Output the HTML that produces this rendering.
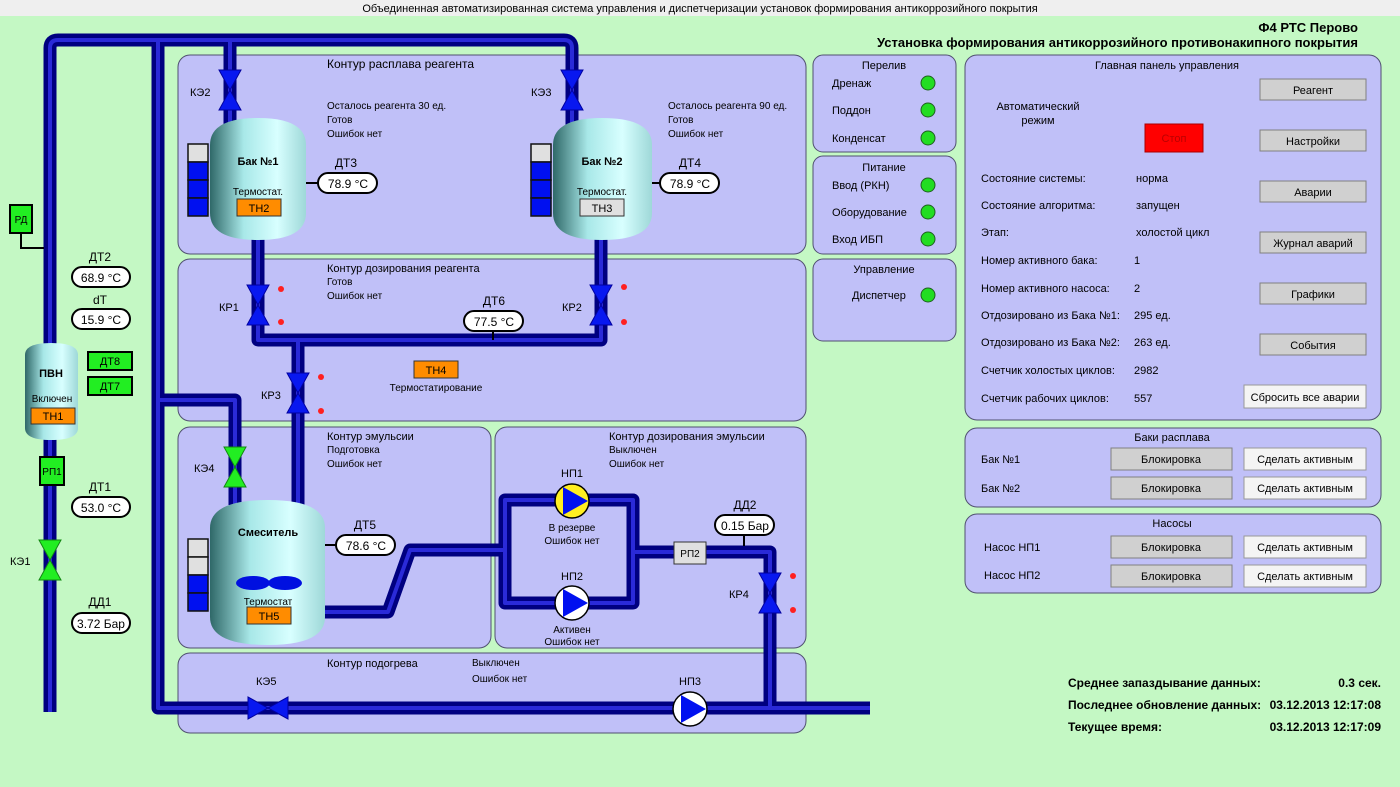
<!DOCTYPE html>
<html><head><meta charset="utf-8"><style>
body{margin:0;background:#c4f8c4;}
svg{display:block;font-family:"Liberation Sans","Noto Sans CJK SC",sans-serif;}
.t{font-size:11px;fill:#000}
.s{font-size:10px;fill:#000}
.h{font-size:12px;fill:#000}
.p{fill:#c0c0f8;stroke:#505070;stroke-width:1}
.pipe{fill:none;stroke:#000080;stroke-width:13;stroke-linejoin:round;stroke-linecap:butt}
.pipe2{fill:none;stroke:#2a2ad8;stroke-width:4;stroke-linejoin:round}
.btn{fill:#d0d0d0;stroke:#808080}
.g{fill:#22dd22;stroke:#206020}
</style></head><body>
<svg width="1400" height="787" viewBox="0 0 1400 787">
<defs>
<linearGradient id="tk" x1="0" x2="1" y1="0" y2="0">
<stop offset="0" stop-color="#2f6868"/><stop offset="0.35" stop-color="#a8e8e8"/><stop offset="0.7" stop-color="#d8ffff"/><stop offset="1" stop-color="#9ed8d8"/></linearGradient>
</defs>
<rect width="1400" height="787" fill="#c4f8c4"/>
<rect width="1400" height="16" fill="#efefef"/>
<text x="700" y="12" text-anchor="middle" class="t">Объединенная автоматизированная система управления и диспетчеризации установок формирования антикоррозийного покрытия</text>
<text x="1358" y="32" text-anchor="end" style="font-size:13px;font-weight:bold">Ф4 РТС Перово</text>
<text x="1358" y="47" text-anchor="end" style="font-size:13px;font-weight:bold">Установка формирования антикоррозийного противонакипного покрытия</text>

<!-- panels -->
<rect class="p" x="178" y="55" width="628" height="199" rx="12"/>
<rect class="p" x="178" y="259" width="628" height="162" rx="12"/>
<rect class="p" x="178" y="427" width="313" height="221" rx="12"/>
<rect class="p" x="495" y="427" width="311" height="221" rx="12"/>
<rect class="p" x="178" y="653" width="628" height="80" rx="12"/>
<rect class="p" x="813" y="55" width="143" height="97" rx="10"/>
<rect class="p" x="813" y="156" width="143" height="98" rx="10"/>
<rect class="p" x="813" y="259" width="143" height="82" rx="10"/>
<rect class="p" x="965" y="55" width="416" height="365" rx="12"/>
<rect class="p" x="965" y="428" width="416" height="79" rx="12"/>
<rect class="p" x="965" y="514" width="416" height="79" rx="12"/>

<text x="327" y="68" class="h">Контур расплава реагента</text>
<text x="327" y="272" class="h" style="font-size:11px">Контур дозирования реагента</text>
<text x="327" y="285" class="s">Готов</text><text x="327" y="299" class="s">Ошибок нет</text>
<text x="327" y="440" class="h" style="font-size:11px">Контур эмульсии</text>
<text x="327" y="453" class="s">Подготовка</text><text x="327" y="467" class="s">Ошибок нет</text>
<text x="609" y="440" class="h" style="font-size:11px">Контур дозирования эмульсии</text>
<text x="609" y="453" class="s">Выключен</text><text x="609" y="467" class="s">Ошибок нет</text>
<text x="327" y="667" class="h" style="font-size:11px">Контур подогрева</text>
<text x="472" y="666" class="s">Выключен</text><text x="472" y="682" class="s">Ошибок нет</text>
<text x="327" y="109" class="s">Осталось реагента  30 ед.</text><text x="327" y="123" class="s">Готов</text><text x="327" y="137" class="s">Ошибок нет</text>
<text x="668" y="109" class="s">Осталось реагента  90 ед.</text><text x="668" y="123" class="s">Готов</text><text x="668" y="137" class="s">Ошибок нет</text>

<!-- pipes -->
<g class="pipe">
<path d="M50,712 V48 Q50,40 58,40 H564 Q572,40 572,48 V125"/>
<path d="M158,40 V708 H870"/>
<path d="M230,40 V125"/>
<path d="M258,238 V340 H601 V238"/>
<path d="M298,340 V505"/>
<path d="M158,400 H235 V505"/>
<path d="M320,612 H388 L410,550 H505"/>
<path d="M505,500 H633 V603 H505 Z"/>
<path d="M633,552 H770 V708"/>
</g>
<g class="pipe2">
<path d="M50,712 V48 Q50,40 58,40 H564 Q572,40 572,48 V125"/>
<path d="M158,40 V708 H870"/>
<path d="M230,40 V125"/>
<path d="M258,238 V340 H601 V238"/>
<path d="M298,340 V505"/>
<path d="M158,400 H235 V505"/>
<path d="M320,612 H388 L410,550 H505"/>
<path d="M505,500 H633 V603 H505 Z"/>
<path d="M633,552 H770 V708"/>
</g>

<!-- tanks -->
<path d="M210,145 Q210,118 258,118 Q306,118 306,145 V213 Q306,240 258,240 Q210,240 210,213 Z" fill="url(#tk)"/>
<path d="M553,145 Q553,118 602,118 Q652,118 652,145 V213 Q652,240 602,240 Q553,240 553,213 Z" fill="url(#tk)"/>
<path d="M210,528 Q210,500 268,500 Q325,500 325,528 V617 Q325,645 268,645 Q210,645 210,617 Z" fill="url(#tk)"/>
<path d="M25,355 Q25,343 51,343 Q78,343 78,355 V428 Q78,440 51,440 Q25,440 25,428 Z" fill="url(#tk)"/>
<text x="258" y="165" text-anchor="middle" class="t" style="font-weight:bold">Бак №1</text>
<text x="258" y="195" text-anchor="middle" class="s">Термостат.</text>
<rect x="237" y="199" width="44" height="17" fill="#ff8c00" stroke="#333"/><text x="259" y="212" text-anchor="middle" class="t">ТН2</text>
<text x="602" y="165" text-anchor="middle" class="t" style="font-weight:bold">Бак №2</text>
<text x="602" y="195" text-anchor="middle" class="s">Термостат.</text>
<rect x="580" y="199" width="44" height="17" fill="#e0e0e0" stroke="#333"/><text x="602" y="212" text-anchor="middle" class="t">ТН3</text>
<text x="268" y="536" text-anchor="middle" class="t" style="font-weight:bold">Смеситель</text>
<ellipse cx="253" cy="583" rx="17" ry="7" fill="#0010e0"/><ellipse cx="285" cy="583" rx="17" ry="7" fill="#0010e0"/>
<text x="268" y="605" text-anchor="middle" class="s">Термостат</text>
<rect x="247" y="607" width="44" height="17" fill="#ff8c00" stroke="#333"/><text x="269" y="620" text-anchor="middle" class="t">ТН5</text>
<text x="51" y="377" text-anchor="middle" class="t" style="font-weight:bold">ПВН</text>
<text x="52" y="402" text-anchor="middle" class="s">Включен</text>
<rect x="31" y="408" width="44" height="16" fill="#ff8c00" stroke="#333"/><text x="53" y="420" text-anchor="middle" class="t">ТН1</text>

<!-- level bars -->
<g stroke="#111" stroke-width="1.5">
<rect x="188" y="144" width="20" height="18" fill="#e0e0e0"/><rect x="188" y="162" width="20" height="18" fill="#0010f0"/><rect x="188" y="180" width="20" height="18" fill="#0010f0"/><rect x="188" y="198" width="20" height="18" fill="#0010f0"/>
<rect x="531" y="144" width="20" height="18" fill="#e0e0e0"/><rect x="531" y="162" width="20" height="18" fill="#0010f0"/><rect x="531" y="180" width="20" height="18" fill="#0010f0"/><rect x="531" y="198" width="20" height="18" fill="#0010f0"/>
<rect x="188" y="539" width="20" height="18" fill="#e0e0e0"/><rect x="188" y="557" width="20" height="18" fill="#e0e0e0"/><rect x="188" y="575" width="20" height="18" fill="#0010f0"/><rect x="188" y="593" width="20" height="18" fill="#0010f0"/>
</g>

<!-- valves -->
<g fill="#0818f0" stroke="#0000a0">
<path d="M219,70 H241 L230,90 Z M219,110 H241 L230,90 Z"/>
<path d="M561,70 H583 L572,90 Z M561,110 H583 L572,90 Z"/>
<path d="M247,285 H269 L258,305 Z M247,325 H269 L258,305 Z"/>
<path d="M590,285 H612 L601,305 Z M590,325 H612 L601,305 Z"/>
<path d="M287,373 H309 L298,393 Z M287,413 H309 L298,393 Z"/>
<path d="M759,573 H781 L770,593 Z M759,613 H781 L770,593 Z"/>
<path d="M248,697 V719 L268,708 Z M288,697 V719 L268,708 Z"/>
</g>
<g fill="#22ee22" stroke="#118811">
<path d="M224,447 H246 L235,467 Z M224,487 H246 L235,467 Z"/>
<path d="M39,540 H61 L50,560 Z M39,580 H61 L50,560 Z"/>
</g>
<text x="190" y="96" class="t">КЭ2</text><text x="531" y="96" class="t">КЭ3</text>
<text x="219" y="311" class="t">КР1</text><text x="562" y="311" class="t">КР2</text>
<text x="261" y="399" class="t">КР3</text><text x="194" y="472" class="t">КЭ4</text>
<text x="10" y="565" class="t">КЭ1</text><text x="729" y="598" class="t">КР4</text>
<text x="256" y="685" class="t">КЭ5</text>
<g fill="#ff2020">
<circle cx="281" cy="289" r="3"/><circle cx="281" cy="322" r="3"/>
<circle cx="624" cy="287" r="3"/><circle cx="624" cy="322" r="3"/>
<circle cx="321" cy="377" r="3"/><circle cx="321" cy="411" r="3"/>
<circle cx="793" cy="576" r="3"/><circle cx="793" cy="610" r="3"/>
</g>

<!-- pumps -->
<g stroke="#000" stroke-width="1.5">
<circle cx="572" cy="501" r="17" fill="#ffee22"/><path d="M563,487 L588,501 L563,515 Z" fill="#0010f0" stroke="none"/>
<circle cx="572" cy="603" r="17" fill="#fff"/><path d="M563,589 L588,603 L563,617 Z" fill="#0010f0" stroke="none"/>
<circle cx="690" cy="709" r="17" fill="#fff"/><path d="M681,695 L706,709 L681,723 Z" fill="#0010f0" stroke="none"/>
</g>
<text x="572" y="477" text-anchor="middle" class="t">НП1</text>
<text x="572" y="531" text-anchor="middle" class="s">В резерве</text><text x="572" y="544" text-anchor="middle" class="s">Ошибок нет</text>
<text x="572" y="580" text-anchor="middle" class="t">НП2</text>
<text x="572" y="633" text-anchor="middle" class="s">Активен</text><text x="572" y="645" text-anchor="middle" class="s">Ошибок нет</text>
<text x="690" y="685" text-anchor="middle" class="t">НП3</text>

<!-- sensors -->
<g fill="#fff" stroke="#000" stroke-width="2">
<path d="M306,183 H318" fill="none"/><rect x="318" y="173" width="59" height="20" rx="10"/>
<path d="M652,183 H660" fill="none"/><rect x="660" y="173" width="59" height="20" rx="10"/>
<path d="M493,331 V340" fill="none"/><rect x="464" y="311" width="59" height="20" rx="10"/>
<path d="M325,545 H336" fill="none"/><rect x="336" y="535" width="59" height="20" rx="10"/>
<path d="M744,535 V546" fill="none"/><rect x="715" y="515" width="59" height="20" rx="10"/>
<rect x="72" y="267" width="58" height="20" rx="10"/>
<rect x="72" y="309" width="58" height="20" rx="10"/>
<rect x="72" y="497" width="58" height="20" rx="10"/>
<rect x="72" y="613" width="58" height="20" rx="10"/>
<path d="M21,233 V248 H44" fill="none"/>
</g>
<g class="t" style="font-size:12px" text-anchor="middle">
<text x="348" y="188">78.9 °C</text><text x="690" y="188">78.9 °C</text><text x="494" y="326">77.5 °C</text>
<text x="366" y="550">78.6 °C</text><text x="745" y="530">0.15 Бар</text>
<text x="101" y="282">68.9 °C</text><text x="101" y="324">15.9 °C</text><text x="101" y="512">53.0 °C</text><text x="101" y="628">3.72 Бар</text>
<text x="346" y="167">ДТ3</text><text x="690" y="167">ДТ4</text><text x="494" y="305">ДТ6</text><text x="365" y="529">ДТ5</text><text x="745" y="509">ДД2</text>
<text x="100" y="261">ДТ2</text><text x="100" y="304">dT</text><text x="100" y="491">ДТ1</text><text x="100" y="606">ДД1</text>
</g>
<rect x="414" y="361" width="44" height="17" fill="#ff8c00" stroke="#333"/><text x="436" y="374" text-anchor="middle" class="t">ТН4</text>
<text x="436" y="391" text-anchor="middle" class="s">Термостатирование</text>
<rect x="674" y="542" width="32" height="22" fill="#e0e0e0" stroke="#333"/><text x="690" y="557" text-anchor="middle" class="s">РП2</text>

<g stroke="#000" stroke-width="2" fill="#22ee22">
<rect x="10" y="205" width="22" height="28"/>
<rect x="88" y="352" width="44" height="18"/><rect x="88" y="377" width="44" height="18"/>
<rect x="40" y="457" width="24" height="28"/>
</g>
<text x="21" y="223" text-anchor="middle" class="s">РД</text>
<text x="110" y="365" text-anchor="middle" class="t">ДТ8</text><text x="110" y="390" text-anchor="middle" class="t">ДТ7</text>
<text x="52" y="475" text-anchor="middle" class="s">РП1</text>

<!-- status panels -->
<text x="884" y="69" text-anchor="middle" class="t">Перелив</text>
<text x="832" y="87" class="t">Дренаж</text><text x="832" y="114" class="t">Поддон</text><text x="832" y="142" class="t">Конденсат</text>
<text x="884" y="171" text-anchor="middle" class="t">Питание</text>
<text x="832" y="189" class="t">Ввод (РКН)</text><text x="832" y="216" class="t">Оборудование</text><text x="832" y="243" class="t">Вход ИБП</text>
<text x="884" y="273" text-anchor="middle" class="t">Управление</text>
<text x="852" y="299" class="t">Диспетчер</text>
<g class="g"><circle cx="928" cy="83" r="7"/><circle cx="928" cy="110" r="7"/><circle cx="928" cy="138" r="7"/><circle cx="928" cy="185" r="7"/><circle cx="928" cy="212" r="7"/><circle cx="928" cy="239" r="7"/><circle cx="928" cy="295" r="7"/></g>

<!-- main panel -->
<text x="1167" y="69" text-anchor="middle" class="t">Главная панель управления</text>
<text x="1038" y="110" text-anchor="middle" class="t">Автоматический</text><text x="1038" y="124" text-anchor="middle" class="t">режим</text>
<rect x="1145" y="124" width="58" height="28" fill="#ff0000" stroke="#a00"/><text x="1174" y="142" text-anchor="middle" class="t" style="fill:#b00">Стоп</text>
<g class="t">
<text x="981" y="182">Состояние системы:</text><text x="1136" y="182">норма</text>
<text x="981" y="209">Состояние алгоритма:</text><text x="1136" y="209">запущен</text>
<text x="981" y="236">Этап:</text><text x="1136" y="236">холостой цикл</text>
<text x="981" y="264">Номер активного бака:</text><text x="1134" y="264">1</text>
<text x="981" y="292">Номер активного насоса:</text><text x="1134" y="292">2</text>
<text x="981" y="319">Отдозировано из Бака №1:</text><text x="1134" y="319">295 ед.</text>
<text x="981" y="346">Отдозировано из Бака №2:</text><text x="1134" y="346">263 ед.</text>
<text x="981" y="374">Счетчик холостых циклов:</text><text x="1134" y="374">2982</text>
<text x="981" y="402">Счетчик рабочих циклов:</text><text x="1134" y="402">557</text>
</g>
<g>
<rect class="btn" x="1260" y="79" width="106" height="21"/><rect class="btn" x="1260" y="130" width="106" height="21"/>
<rect class="btn" x="1260" y="181" width="106" height="21"/><rect class="btn" x="1260" y="232" width="106" height="21"/>
<rect class="btn" x="1260" y="283" width="106" height="21"/><rect class="btn" x="1260" y="334" width="106" height="21"/>
<rect x="1244" y="385" width="122" height="23" fill="#f4f4f4" stroke="#999"/>
</g>
<g class="t" text-anchor="middle">
<text x="1313" y="94">Реагент</text><text x="1313" y="145">Настройки</text><text x="1313" y="196">Аварии</text>
<text x="1313" y="247">Журнал аварий</text><text x="1313" y="298">Графики</text><text x="1313" y="349">События</text>
<text x="1305" y="401">Сбросить все аварии</text>
</g>

<text x="1172" y="441" text-anchor="middle" class="t">Баки расплава</text>
<text x="981" y="463" class="t">Бак №1</text><text x="981" y="492" class="t">Бак №2</text>
<text x="1172" y="527" text-anchor="middle" class="t">Насосы</text>
<text x="984" y="551" class="t">Насос НП1</text><text x="984" y="579" class="t">Насос НП2</text>
<g>
<rect class="btn" x="1111" y="448" width="121" height="22"/><rect class="btn" x="1111" y="477" width="121" height="22"/>
<rect class="btn" x="1111" y="536" width="121" height="22"/><rect class="btn" x="1111" y="565" width="121" height="22"/>
<rect x="1244" y="448" width="122" height="22" fill="#f4f4f4" stroke="#999"/><rect x="1244" y="477" width="122" height="22" fill="#f4f4f4" stroke="#999"/>
<rect x="1244" y="536" width="122" height="22" fill="#f4f4f4" stroke="#999"/><rect x="1244" y="565" width="122" height="22" fill="#f4f4f4" stroke="#999"/>
</g>
<g class="t" text-anchor="middle">
<text x="1171" y="463">Блокировка</text><text x="1171" y="492">Блокировка</text><text x="1171" y="551">Блокировка</text><text x="1171" y="580">Блокировка</text>
<text x="1305" y="463">Сделать активным</text><text x="1305" y="492">Сделать активным</text><text x="1305" y="551">Сделать активным</text><text x="1305" y="580">Сделать активным</text>
</g>

<g style="font-size:12px;font-weight:bold">
<text x="1068" y="687">Среднее запаздывание данных:</text><text x="1381" y="687" text-anchor="end">0.3 сек.</text>
<text x="1068" y="709">Последнее обновление данных:</text><text x="1381" y="709" text-anchor="end">03.12.2013 12:17:08</text>
<text x="1068" y="731">Текущее время:</text><text x="1381" y="731" text-anchor="end">03.12.2013 12:17:09</text>
</g>
</svg>
</body></html>
